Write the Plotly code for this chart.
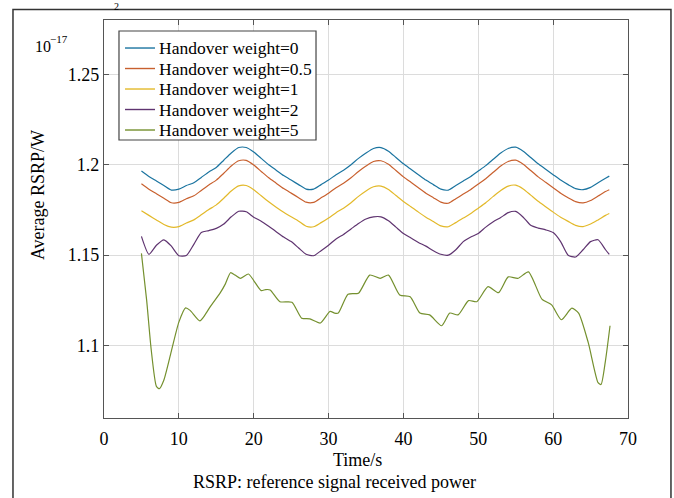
import plotly.graph_objects as go

# ---- data (values in units of 1e-17 W) ----
t = [5, 6, 7, 8, 9, 10, 11, 12, 13, 14, 15, 16, 17, 18, 19, 20, 21, 22, 23, 24,
     25, 26, 27, 28, 29, 30, 31, 32, 33, 34, 35, 36, 37, 38, 39, 40, 41, 42, 43, 44,
     45, 46, 47, 48, 49, 50, 51, 52, 53, 54, 55, 56, 57, 58, 59, 60, 61, 62, 63, 64,
     65, 66, 67, 67.5]

w0 = [1.1965, 1.1935, 1.1910, 1.1885, 1.1860, 1.1865, 1.1885, 1.1900, 1.1930, 1.1960,
      1.1985, 1.2025, 1.2065, 1.2095, 1.2095, 1.2070, 1.2035, 1.2000, 1.1970, 1.1940,
      1.1915, 1.1890, 1.1865, 1.1865, 1.1890, 1.1915, 1.1945, 1.1970, 1.2000, 1.2035,
      1.2065, 1.2090, 1.2095, 1.2075, 1.2040, 1.2005, 1.1975, 1.1945, 1.1915, 1.1890,
      1.1865, 1.1860, 1.1885, 1.1910, 1.1935, 1.1965, 1.1995, 1.2030, 1.2065, 1.2090,
      1.2097, 1.2075, 1.2040, 1.2005, 1.1975, 1.1945, 1.1915, 1.1890, 1.1868, 1.1862,
      1.1875, 1.1900, 1.1925, 1.1937]

w05 = [1.1895, 1.1865, 1.1840, 1.1815, 1.1790, 1.1792, 1.1812, 1.1828, 1.1858, 1.1888,
       1.1915, 1.1953, 1.1993, 1.2022, 1.2024, 1.1998, 1.1963, 1.1928, 1.1898, 1.1868,
       1.1843, 1.1818, 1.1793, 1.1792, 1.1817, 1.1843, 1.1873, 1.1898, 1.1928, 1.1963,
       1.1993, 1.2018, 1.2022, 1.2003, 1.1968, 1.1933, 1.1903, 1.1873, 1.1843, 1.1818,
       1.1793, 1.1787, 1.1812, 1.1838, 1.1863, 1.1893, 1.1923, 1.1958, 1.1993, 1.2018,
       1.2025, 1.2003, 1.1968, 1.1933, 1.1903, 1.1873, 1.1843, 1.1818, 1.1796, 1.1789,
       1.1802, 1.1827, 1.1852, 1.1862]

w1 = [1.1745, 1.1720, 1.1695, 1.1670, 1.1655, 1.1658, 1.1678, 1.1695, 1.1723, 1.1752,
      1.1778, 1.1815, 1.1855, 1.1883, 1.1885, 1.1862, 1.1828, 1.1795, 1.1765, 1.1737,
      1.1712, 1.1688, 1.1660, 1.1657, 1.1680, 1.1706, 1.1735, 1.1760, 1.1790, 1.1825,
      1.1855, 1.1878, 1.1882, 1.1863, 1.1830, 1.1797, 1.1768, 1.1738, 1.1710, 1.1686,
      1.1662, 1.1657, 1.1680, 1.1705, 1.1730, 1.1760, 1.1790, 1.1825, 1.1858, 1.1882,
      1.1887, 1.1866, 1.1832, 1.1798, 1.1768, 1.1738, 1.1710, 1.1687, 1.1665, 1.1658,
      1.1672, 1.1695, 1.1720, 1.1730]

w2 = [1.1604, 1.1505, 1.1555, 1.1585, 1.1550, 1.1497, 1.1498, 1.1560, 1.1625, 1.1636,
      1.1648, 1.1672, 1.1712, 1.1743, 1.1740, 1.1710, 1.1688, 1.1660, 1.1630, 1.1600,
      1.1575, 1.1540, 1.1505, 1.1497, 1.1525, 1.1555, 1.1590, 1.1615, 1.1645, 1.1675,
      1.1700, 1.1712, 1.1712, 1.1690, 1.1655, 1.1620, 1.1595, 1.1570, 1.1550, 1.1525,
      1.1505, 1.1500, 1.1530, 1.1575, 1.1600, 1.1620, 1.1655, 1.1685, 1.1708, 1.1735,
      1.1742, 1.1710, 1.1665, 1.1650, 1.1640, 1.1625, 1.1575, 1.1500, 1.1490, 1.1530,
      1.1575, 1.1585, 1.1530, 1.1505]

t5 = [5.0, 5.7, 6.3, 7.0, 7.4, 8.0, 9.0, 10.0, 10.9, 11.5, 12.8, 13.5, 14.2, 15.5, 16.2,
      16.9, 17.5, 18.2, 19.3, 20.0, 21.0, 21.6, 22.2, 23.5, 25.1, 26.4, 27.5, 28.9, 30.2,
      30.8, 31.3, 32.6, 34.0, 35.5, 36.9, 38.0, 39.5, 40.9, 42.2, 43.5, 45.1, 46.2, 47.3,
      48.7, 49.8, 51.3, 52.7, 54.0, 55.3, 56.7, 58.5, 59.8, 61.1, 62.5, 63.4, 64.7, 66.0,
      66.4, 67.0, 67.6]
w5 = [1.1510, 1.1250, 1.0980, 1.0775, 1.0762, 1.0810, 1.0970, 1.1130, 1.1209, 1.1195,
      1.1137, 1.1170, 1.1216, 1.1290, 1.1340, 1.1403, 1.1390, 1.1372, 1.1396, 1.1360,
      1.1304, 1.1310, 1.1308, 1.1243, 1.1240, 1.1152, 1.1148, 1.1125, 1.1189, 1.1180,
      1.1180, 1.1284, 1.1290, 1.1390, 1.1372, 1.1390, 1.1280, 1.1270, 1.1180, 1.1170,
      1.1110, 1.1180, 1.1170, 1.1249, 1.1243, 1.1326, 1.1293, 1.1380, 1.1372, 1.1408,
      1.1257, 1.1225, 1.1143, 1.1207, 1.1180, 1.1015, 1.0795, 1.0785, 1.0920, 1.1110]

names = ["Handover weight=0", "Handover weight=0.5", "Handover weight=1",
         "Handover weight=2", "Handover weight=5"]
colors = ["#1b74a0", "#c8602e", "#e3b92a", "#5f3470", "#74902e"]

x_ticks = [0, 10, 20, 30, 40, 50, 60, 70]
y_ticks = [1.1, 1.15, 1.2, 1.25]
y_labels = ["1.1", "1.15", "1.2", "1.25"]

FONT = "Liberation Serif"
FS = 18
LFS = 17.5

fig = go.Figure()
series = [(t, w0), (t, w05), (t, w1), (t, w2), (t5, w5)]
for (xs, ys), n, c in zip(series, names, colors):
    fig.add_trace(go.Scatter(x=xs, y=ys, mode="lines", name=n, showlegend=False,
                             line=dict(color=c, width=1.2, shape="spline", smoothing=0.6)))

axis_common = dict(showline=True, linecolor="#555555", linewidth=1.2, mirror="ticks",
                   ticks="inside", ticklen=5, tickcolor="#555555",
                   showgrid=True, gridcolor="#dcdcdc", gridwidth=1, zeroline=False,
                   tickfont=dict(family=FONT, size=FS, color="black"))

fig.update_layout(
    width=674, height=498,
    margin=dict(l=104, r=46, t=20, b=80),
    paper_bgcolor="white", plot_bgcolor="white",
    font=dict(family=FONT, size=FS, color="black"),
    xaxis=dict(range=[0, 70], tickvals=x_ticks, ticklabelstandoff=4, **axis_common),
    yaxis=dict(range=[1.06, 1.28], tickvals=y_ticks, ticktext=y_labels, **axis_common),
    showlegend=False,
)

# ---- legend box drawn by hand (compact MATLAB-style legend) ----
fig.add_shape(type="rect", xref="paper", yref="paper",
              x0=0.0286, x1=0.4046, y0=0.6985, y1=0.9724,
              line=dict(color="#444444", width=1.2), fillcolor="white", layer="above")
row_y = [0.9296, 0.8781, 0.8266, 0.7751, 0.7236]
for n, c, ry in zip(names, colors, row_y):
    fig.add_shape(type="line", xref="paper", yref="paper",
                  x0=0.0401, x1=0.0973, y0=ry, y1=ry,
                  line=dict(color=c, width=1.4), layer="above")
    fig.add_annotation(text=n, x=0.1031, y=ry, xref="paper", yref="paper",
                       showarrow=False, xanchor="left", yanchor="middle", borderpad=0,
                       font=dict(family=FONT, size=LFS, color="black"))

ann = [
    dict(text="10", x=-0.1166, y=0.9322, size=16),
    dict(text="−17", x=-0.0859, y=0.9523, size=11),
    dict(text="Time/s", x=0.483, y=-0.1055, size=FS),
    dict(text="RSRP: reference signal received power", x=0.439, y=-0.161, size=FS),
    dict(text="2", x=0.0248, y=1.035, size=10),
]
for a in ann:
    fig.add_annotation(text=a["text"], x=a["x"], y=a["y"], xref="paper", yref="paper",
                       showarrow=False, xanchor="center", yanchor="middle",
                       font=dict(family=FONT, size=a["size"], color="black"))
fig.add_annotation(text="Average RSRP/W", x=-0.126, y=0.560, xref="paper", yref="paper",
                   showarrow=False, textangle=-90, xanchor="center", yanchor="middle",
                   font=dict(family=FONT, size=FS, color="black"))

# outer frame of the figure panel
fig.add_shape(type="rect", xref="paper", yref="paper",
              x0=-0.1737, x1=1.082, y0=-0.25, y1=1.0264,
              line=dict(color="#333333", width=1.5), layer="below")

fig.write_html("out.html", config={"displayModeBar": False},
               post_script="document.body.style.margin='0';document.body.style.overflow='hidden';")
